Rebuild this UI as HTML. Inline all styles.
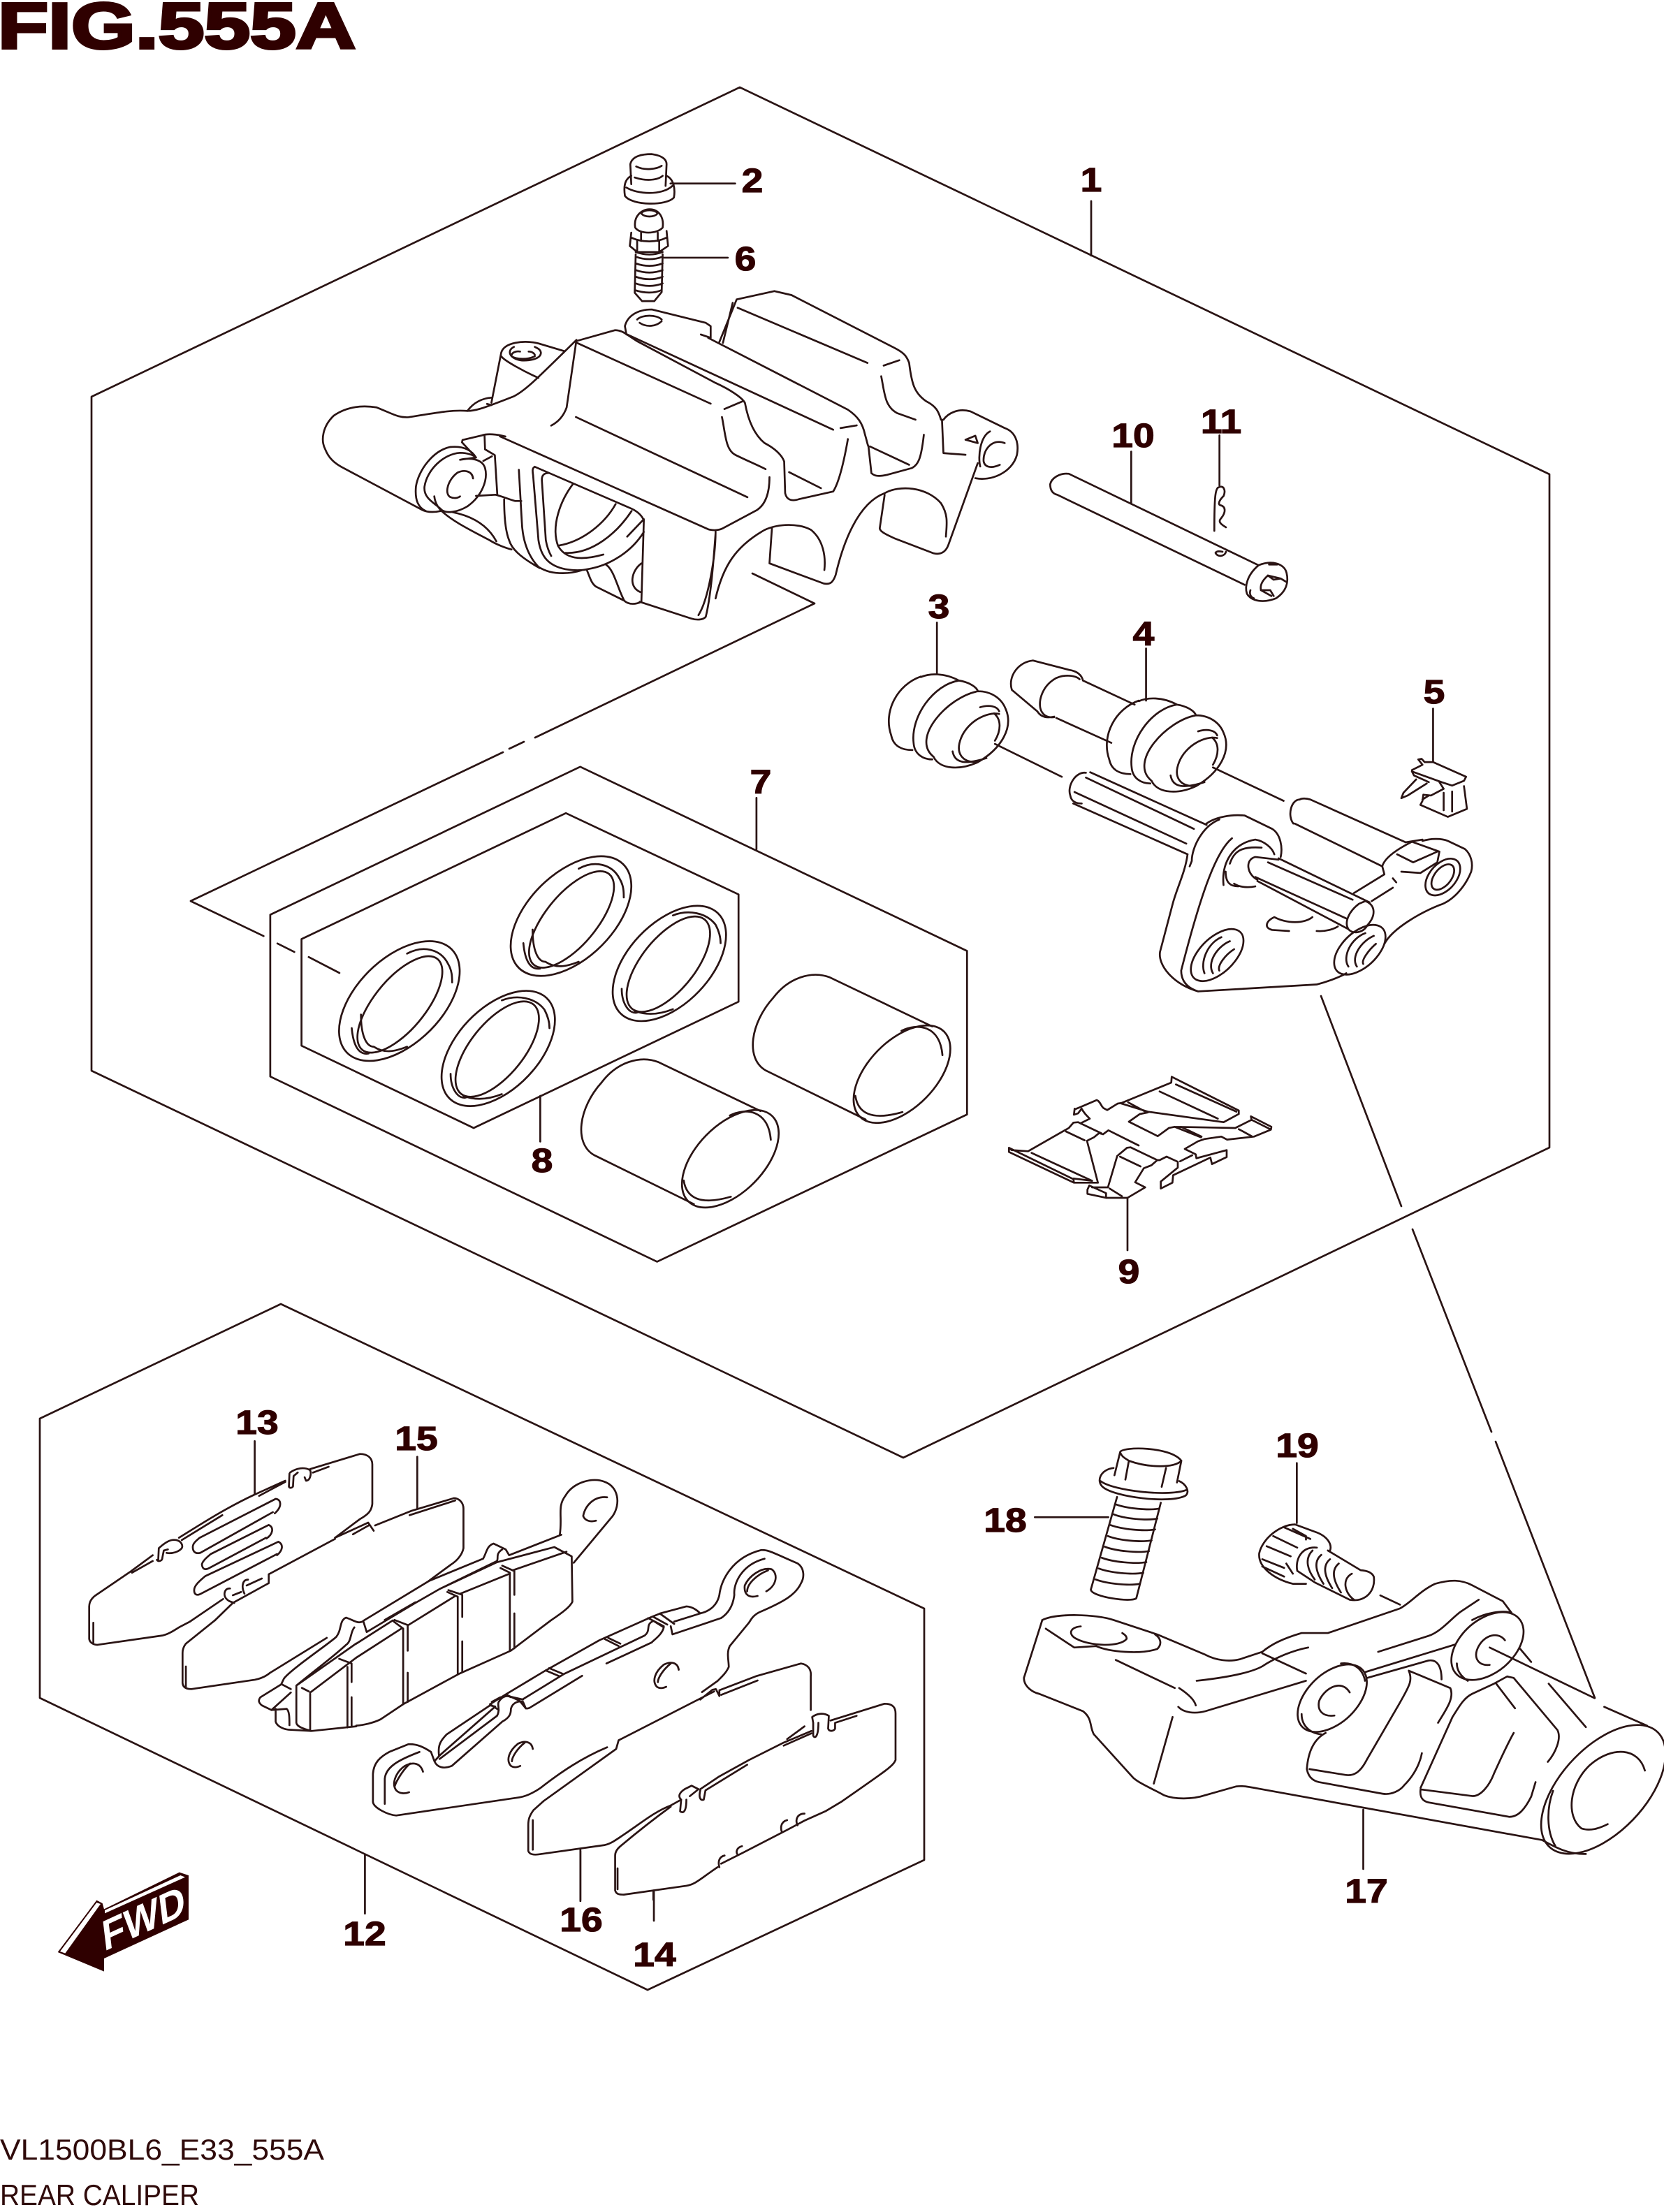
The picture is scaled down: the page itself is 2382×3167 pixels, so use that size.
<!DOCTYPE html>
<html><head><meta charset="utf-8"><style>
html,body{margin:0;padding:0;background:#fff;width:2382px;height:3167px;overflow:hidden}
svg{display:block}
.l path,.l ellipse,.l polyline{fill:none;stroke:#2a1414;stroke-width:2.7;stroke-linecap:round;stroke-linejoin:round;vector-effect:non-scaling-stroke}
.n text{font-family:"Liberation Sans",sans-serif;font-weight:700;font-size:48px;fill:#2f0000;stroke:#2f0000;stroke-width:1.2;text-anchor:middle}
</style></head><body>
<svg width="2382" height="3167" viewBox="0 0 2382 3167" xmlns="http://www.w3.org/2000/svg">
<rect width="2382" height="3167" fill="#fff"/>
<g class="l">
<!-- main frames -->
<path d="M1059,125 L2218,679 V1643 L1293,2087 L131,1533 V568 Z"/>
<path d="M402,1867 L1323,2303 V2663 L927,2849 L57,2431 V2031 Z"/>
<path d="M1562,288 V366"/>
<path d="M1077,821 L1166,864 L766,1056 M750,1062 L729,1072 M720,1077 L273,1290"/>
<path d="M1891,1426 L2006,1727 M2022,1760 L2135,2050 M2141,2064 L2283,2431"/>

<!-- pin 10 and clip 11 -->
<g transform="translate(1480,570) scale(.3333)">
<path d="M418,230 V450 M797,160 V375"/>
<path d="M150,325 C110,320 75,345 70,370 C70,395 80,410 100,415 M150,325 L965,718 M100,415 L905,802"/>
<path d="M965,718 C1020,695 1075,710 1085,750 C1095,790 1085,830 1040,860 C990,880 935,875 915,840 C905,810 915,760 965,718 M1010,715 L1045,715 M1005,762 C985,780 970,800 975,825 L1020,850 M1005,762 L1060,775 L1085,790 M975,825 L1015,825 L1030,850 M1060,775 L1030,780 L1005,762 M930,825 C925,840 930,855 945,860"/>
<path d="M825,660 C820,680 790,685 780,665 C785,655 800,658 810,660"/>
<path d="M790,385 C780,395 775,420 775,570 M790,385 C815,370 825,395 815,420 C795,440 790,455 800,460 C825,465 825,490 805,515 C790,530 800,540 825,555"/>
</g>

<!-- ZOOM 1 caliper -->
<g transform="translate(400,180) scale(.7015,.4783)">
<path d="M718,175 L716,115 C720,90 740,85 760,85 C785,90 790,105 790,115 L788,180 M728,122 C745,135 770,130 780,120 M725,155 C745,165 770,165 782,150 M718,150 C705,160 702,180 705,210 C720,240 790,240 805,215 C808,190 805,160 790,150 M708,185 C730,205 780,210 802,180 M798,173 H930"/>
<path d="M726,305 C722,270 740,250 755,250 C775,250 785,275 782,305 C770,325 735,325 726,305 M738,262 C745,250 765,250 772,262 C765,275 745,275 738,262 M738,320 V345 M772,320 V345 M718,320 L715,360 L730,378 L775,378 L793,360 L790,315 M730,345 V378 M775,345 V378 M718,335 C740,350 770,350 790,335 M727,385 L725,500 L740,525 L765,525 L780,498 L782,385 M727,378 C745,388 765,388 782,378 M727,392 C745,402 765,402 782,392 M727,412 C745,422 765,422 782,412 M727,432 C745,442 765,442 782,432 M727,452 C745,462 765,462 782,452 M727,472 C745,482 765,482 782,472 M725,492 C745,502 765,502 780,492 M785,395 H915"/>
<path d="M605,645 L685,612 C700,612 708,625 730,645 L890,770 C920,790 945,815 950,830 C955,870 965,920 990,950 C1010,965 1025,985 1030,1005 L1032,1100 C1035,1120 1045,1125 1060,1118 L1130,1095 C1145,1060 1155,980 1160,938"/>
<path d="M607,650 L880,832 M908,848 L945,825 M903,872 C910,920 910,970 930,985 C950,1000 975,1015 992,1028 M1040,1037 L1105,1085 M605,872 L955,1112"/>
<path d="M1000,1052 C1000,1090 995,1130 975,1150 L905,1205 C895,1212 885,1212 875,1208 L450,930"/>
<path d="M890,1215 C890,1290 875,1420 855,1465 M890,1220 C885,1320 880,1410 870,1470 C865,1480 850,1480 840,1475 L735,1425"/>
<path d="M890,1415 C905,1320 930,1260 990,1210 C1020,1190 1060,1190 1085,1210 C1110,1240 1115,1290 1112,1330 M1005,1205 L1000,1310 L1110,1370 C1125,1375 1130,1365 1135,1345 C1150,1250 1180,1130 1235,1100 C1265,1075 1320,1080 1350,1130 C1365,1165 1362,1190 1360,1230 M1235,1105 L1225,1205 C1225,1215 1240,1225 1255,1235 L1335,1280 C1350,1285 1360,1275 1365,1255 L1425,1010"/>
<path d="M933,520 L1010,495 L1045,507 L1255,665 C1275,680 1280,690 1285,710 C1290,770 1295,800 1320,825 C1340,840 1345,855 1350,880 M935,545 L1200,710 M1233,718 L1265,702 M1228,750 C1235,800 1235,840 1260,860 L1298,880 M933,520 L897,650 M925,530 L905,650 M1205,960 L1285,1015 M1202,960 L1208,1040 C1215,1050 1225,1050 1240,1045 L1290,1025 C1305,1015 1310,990 1315,925"/>
<path d="M705,600 C710,570 730,550 760,550 L870,590 L880,600 V635 L860,625 M705,600 L708,625 M730,580 C740,565 770,565 780,580 M735,590 C750,605 770,600 780,585 M875,635 L1160,850 C1180,870 1190,890 1195,925 C1200,950 1200,955 1202,960 M710,625 L1130,910 M1145,905 L1178,897"/>
<path d="M1352,880 L1355,980 L1400,985 M1355,880 C1365,860 1385,845 1410,855 L1480,905 C1500,915 1510,945 1505,985 C1495,1040 1450,1065 1420,1055 M1480,950 C1455,935 1435,970 1437,1005 C1440,1025 1455,1025 1470,1015 M1450,915 C1430,930 1425,990 1430,1020 M1400,940 L1420,928 L1425,950 L1400,940"/>
</g>

<!-- caliper lower-left detail -->
<g transform="translate(420,480) scale(.3508,.3333)">
<path d="M848,75 C860,30 940,20 1000,35 L1105,68 M900,50 C870,65 880,100 930,108 C970,110 1010,100 1010,75 C1008,60 995,55 985,50 M890,85 C895,70 915,68 925,70 M960,70 C975,70 985,80 985,85 M890,90 C910,105 960,105 985,90 M848,75 L808,290 M848,90 C860,110 950,160 1000,183"/>
<path d="M710,325 C650,320 600,330 470,352 C430,355 410,340 340,310 C280,300 220,305 165,345 C120,390 110,450 130,490 C145,530 170,550 195,565 L525,750 C545,760 570,762 600,755"/>
<path d="M710,325 C735,290 770,270 810,268 M790,295 L808,300 M710,325 C740,325 760,320 900,262 C950,235 1000,180 1155,20 L1115,310 C1105,340 1085,370 1052,388"/>
<path d="M865,435 C830,425 790,422 770,430 L690,450 L688,460 L745,525 M780,430 L782,490 L822,515 L832,685 M775,540 L810,520"/>
<path d="M680,535 C720,525 770,530 782,570 C795,620 770,690 710,735 C670,760 620,770 600,745 C575,720 530,700 535,650 C545,580 610,510 680,505 C710,505 735,515 745,525 M745,525 C725,490 690,475 640,480 C570,495 510,580 500,650 C495,710 510,740 540,755 M680,535 L745,525 M575,692 C578,720 590,740 605,755 M733,615 C730,585 700,575 670,590 C630,620 615,680 640,695 C655,702 670,700 680,692"/>
<path d="M745,690 L825,685 C860,695 880,705 905,712 H930 M860,705 C860,770 865,840 880,880 C890,915 920,950 1005,1000 M920,578 L932,800 C935,880 955,945 1000,995 C1030,1015 1060,1022 1100,1022 C1130,1022 1160,1015 1175,1010 M605,755 C640,790 690,820 800,880 C830,900 870,915 890,920 M650,760 C720,775 790,810 828,885"/>
<path d="M985,565 C975,570 975,580 978,600 L1000,880 C1010,950 1040,990 1110,1005 C1150,1012 1180,1010 1200,1005 C1290,990 1380,930 1430,845 M985,565 L1380,745 C1400,755 1420,770 1430,795 M1014,625 C1012,600 1025,592 1040,592 M1014,625 L1030,880 C1035,910 1045,935 1052,948 M1140,640 C1090,710 1050,820 1080,905 C1110,960 1170,970 1265,942 M1085,903 C1180,885 1270,810 1315,725 M1110,935 C1220,940 1320,850 1380,755 M1430,790 L1362,865 M1430,795 L1420,1145"/>
<path d="M1275,985 C1310,1010 1320,1080 1350,1140 L1235,1080 C1215,1065 1210,1040 1198,1010 M1350,1140 C1370,1160 1400,1155 1420,1145 M1420,980 C1380,1010 1365,1080 1415,1103"/>
</g>

<!-- ZOOM 2 pins / bracket -->
<g transform="translate(1200,850) scale(.606,.3827)">
<path d="M233,108 V300 M727,205 V400 M1405,430 V630"/>
<g id="boot">
<path d="M195,310 C140,340 105,440 125,530 C130,570 150,585 175,585 M195,312 C215,298 250,295 285,325 C225,340 170,460 178,560 C180,600 200,620 222,620 M285,325 C305,330 325,345 330,365 C260,385 170,540 225,610 C240,660 290,660 330,630 C385,580 415,500 395,430 C385,390 360,365 330,365 M380,450 C350,440 305,480 290,540 C275,600 295,630 325,630 M368,448 C385,470 385,510 370,550 M335,425 C355,415 375,420 380,440 M270,590 C275,635 300,640 350,615"/>
</g>
<use href="#boot" transform="translate(515,90)"/>
<path d="M460,250 C425,255 400,310 410,360 L470,440 C480,465 495,465 510,460 M460,250 L545,285 C565,290 575,305 578,325 M510,320 C530,300 560,305 570,320 M510,320 C480,350 470,410 480,440 C485,455 495,465 510,462 M578,325 L700,415 M515,465 L645,558"/>
<path d="M370,562 L528,685 M885,650 L1052,775"/>
<path d="M585,670 C560,665 540,720 548,755 C550,775 560,785 575,785 M595,668 L870,865 M585,688 L840,880 M558,742 L822,935 M555,785 L825,975"/>
<path d="M868,862 C890,835 930,825 960,830 L1025,880 C1045,900 1050,950 1045,985 M825,975 C820,1040 800,1100 790,1160 L760,1340 C755,1390 790,1460 850,1488 L1130,1462 C1160,1450 1190,1430 1200,1420 M830,1020 L835,1000 C835,950 860,870 900,845 M930,915 C895,960 860,1100 810,1410 C810,1450 825,1475 850,1488"/>
<path d="M1090,770 C1070,770 1060,830 1075,860 M1115,770 L1340,930 M1078,860 L1285,1020 M1115,770 C1105,765 1095,765 1090,770"/>
<path d="M1340,930 L1380,920 M1285,1020 C1290,990 1315,960 1355,928 L1420,965 L1415,1005 L1375,1045 L1330,1040 M1320,975 L1358,1005 L1415,965 M1285,1020 L1290,1050 L1218,1120 M1380,925 C1400,915 1425,915 1440,925 L1480,955 C1495,975 1500,1010 1495,1040 C1480,1100 1450,1150 1420,1165 C1380,1190 1310,1250 1290,1310 M1310,1065 L1318,1080 M1310,1100 L1260,1150"/>
<ellipse cx="1428" cy="1060" rx="35" ry="72" transform="rotate(20 1428 1060)"/>
<ellipse cx="1428" cy="1060" rx="22" ry="50" transform="rotate(20 1428 1060)"/>
<path d="M910,1090 C905,1010 930,935 985,920 C1005,925 1025,950 1030,975 M925,1010 C935,960 955,945 1000,950 M935,1085 C950,1100 970,1100 985,1095 M915,1040 C915,1080 925,1095 945,1095 M985,985 C960,995 965,1050 990,1070 M985,985 L1040,995 M1015,1005 L1215,1145 M1040,990 L1255,1155 M985,1060 L1200,1215 M990,1075 L1205,1255 M1245,1150 C1270,1165 1270,1205 1250,1240 C1240,1270 1215,1275 1205,1255 C1195,1230 1205,1190 1230,1160 L1245,1150"/>
<ellipse cx="895" cy="1352" rx="48" ry="105" transform="rotate(25 895 1352)"/>
<path d="M905,1285 C870,1310 855,1380 865,1420 M925,1300 C895,1320 870,1380 885,1420 M935,1330 C915,1350 895,1390 900,1410"/>
<ellipse cx="1232" cy="1332" rx="48" ry="100" transform="rotate(25 1232 1332)"/>
<path d="M1245,1270 C1210,1290 1190,1360 1205,1395 M1265,1280 C1235,1300 1210,1360 1225,1395 M1270,1310 C1255,1330 1235,1370 1240,1385"/>
<path d="M1120,1210 C1100,1235 1060,1235 1030,1210 C1010,1225 1005,1250 1025,1258 L1065,1262 M1130,1262 C1150,1265 1170,1255 1180,1245"/>
<path d="M1355,660 L1380,640 L1370,620 L1378,618 L1385,630 L1405,630 L1483,685 L1478,700 L1450,718 L1425,705 L1355,665 M1355,665 L1360,680 L1395,705 M1365,695 L1335,745 L1330,765 L1345,755 L1390,710 M1420,705 L1430,730 L1400,755 L1382,752 L1380,775 L1375,790 L1440,835 L1485,805 L1478,720 M1430,745 V810 M1450,740 V815 M1380,770 L1395,755"/>
</g>

<!-- ZOOM 7 seals & pistons -->
<g transform="translate(260,1060) scale(.7334,.4847)">
<path d="M778,78 L1533,622 V1105 L928,1540 L173,993 V515 Z"/>
<path d="M750,215 L1087,455 V772 L570,1145 L234,902 V587 Z"/>
<path d="M18,475 L160,578 M187,600 L220,625 M248,640 L308,687"/>
<path d="M1122,170 V322 M700,1050 V1185"/>
<g id="ring">
<ellipse cx="425" cy="770" rx="95" ry="190" transform="rotate(25 425 770)"/>
<ellipse cx="426" cy="780" rx="56" ry="155" transform="rotate(25 426 780)"/>
<path d="M440,630 C470,605 505,615 520,660 C528,680 528,700 528,715 M332,850 C335,900 345,930 365,925 M350,810 C350,870 360,905 375,905 C395,925 415,920 440,905"/>
</g>
<use href="#ring" transform="translate(335,-251)"/>
<g id="ring2">
<ellipse cx="618" cy="910" rx="90" ry="182" transform="rotate(24 618 910)"/>
<ellipse cx="616" cy="912" rx="58" ry="152" transform="rotate(24 616 912)"/>
<path d="M625,768 C655,750 690,760 708,795 C715,815 718,835 718,850 M525,985 C525,1030 540,1060 555,1055 M550,1050 C575,1065 600,1060 625,1045"/>
</g>
<use href="#ring2" transform="translate(334,-251)"/>
<g id="piston">
<path d="M930,950 L1130,1095 M930,950 C895,930 850,950 820,1010 C775,1085 765,1190 805,1225 L1000,1370"/>
<ellipse cx="1071" cy="1236" rx="75" ry="155" transform="rotate(25 1071 1236)"/>
<path d="M1070,1108 C1100,1085 1145,1090 1150,1180 M980,1300 C985,1350 1010,1375 1072,1348"/>
</g>
<use href="#piston" transform="translate(335,-250)"/>
</g>

<!-- ZOOM 6 shim 9 -->
<g transform="translate(1400,1500) scale(.3333)">
<path d="M642,645 V870"/>
<path d="M133,430 L133,448 L412,580 L515,580 L468,400 L498,385 L520,367 L537,372 L560,355 L690,420 M133,430 L410,565 L412,580 M410,562 L490,572 M133,430 L145,440 L215,445 L390,345 L410,322 L430,320 L530,368 M378,360 L458,398 M230,452 L490,572"/>
<path d="M415,262 L412,288 L430,282 L445,262 C455,280 465,290 480,305 L440,325 M415,265 L440,255 L510,225 C525,230 530,255 540,260 L555,268 L600,240 L615,238 L830,150 L832,125 L1120,270 L1120,285 L1055,320 L730,275 L610,238 M645,235 L725,278 M780,188 L1030,305 M850,158 L1110,275"/>
<path d="M730,278 L695,285 L648,318 L772,380 L820,345 L845,340 L1105,345 L1175,310 L1172,295 L1260,340 L1258,352 L1185,382 L1070,395 L1045,382 L975,392 L945,402 L888,435 L935,458 L938,475 L1068,440 L1068,470 L1005,500 L998,472 L838,548 L835,580 L785,605 L785,575 L858,515 L858,490 L810,468 L780,483 L770,483 L655,428 L640,430 L598,465 L558,600 L490,600 M845,340 L958,385 M872,340 L960,382 M1120,350 L1175,380 M1175,310 L1255,350 M868,488 L920,462 M610,468 L698,510 M565,605 L618,638 M478,592 L550,625 L550,645 L470,628 L470,610 L478,592 M550,645 L642,645 L718,600 L675,578 L712,518 L745,505 L770,483"/>
</g>

<!-- pads 13 and 15, left end of pad block -->
<g transform="translate(100,2080) scale(.3954,.3333)">
<path d="M85,730 V815 M70,660 C70,640 80,625 90,615 L220,510 L300,440 M70,660 V800 C72,815 85,825 100,825 L335,785 C355,780 375,765 395,750 L435,725 M225,515 L300,465"/>
<path d="M315,460 C320,470 335,465 335,450 L340,420 L355,415 M322,410 C345,385 365,370 385,375 C405,380 410,400 405,410 C395,425 370,435 350,430 M322,410 L320,460"/>
<path d="M395,365 C470,310 560,240 668,180 M405,375 L552,268 M685,185 L780,125 M668,180 L780,120"/>
<path d="M795,90 L793,145 C795,155 810,150 808,140 L810,100 L825,85 M797,85 C820,65 850,60 870,75 C875,90 870,120 855,120 L850,105 M870,70 L1050,5 C1080,5 1095,25 1095,50 L1095,220 C1092,250 1080,265 1050,285 L960,365 M880,85 L937,60"/>
<path d="M445,405 C445,390 455,380 470,365 L745,198 C765,200 770,230 742,260 M445,405 C445,425 455,435 472,430 L735,255 M478,480 C480,465 495,450 510,435 L720,310 C740,320 735,350 712,368 M478,480 C480,500 490,505 505,495 L710,365 M450,590 C450,570 470,550 490,530 L755,382 C775,395 770,420 750,440 M450,590 C450,610 460,615 475,605 L750,435"/>
<path d="M580,583 C560,580 555,610 565,625 C575,640 585,640 595,645 M590,612 L620,598 M645,545 C625,545 620,575 632,605 M640,570 L695,540 M720,525 L720,560 L590,645 L525,720 M435,725 L555,628"/>
<path d="M720,522 L960,370 M1025,350 L1085,310 M960,365 L1080,300 L1100,335 M1105,312 L1235,250 L1390,195 C1410,195 1425,215 1425,240 V410 C1420,440 1400,465 1380,480 L1300,550 M1230,268 L1395,205 M525,720 L420,820 C410,835 408,850 408,860 V990 C410,1010 425,1015 440,1015 L670,975 C690,970 710,960 725,945 L930,795 M420,918 V1005"/>
<path d="M1060,725 C1040,735 1030,720 1000,708 C975,720 985,760 965,790 C950,810 800,930 775,970 L765,995 L690,1050 C680,1065 685,1075 695,1085 L730,1105 L785,1100 C795,1110 795,1140 795,1170 M730,1105 L800,1030 M1030,750 C1015,770 1020,810 1000,825 C950,880 870,950 820,1000 L1037,819 M820,1000 V1160 C822,1175 840,1185 875,1195 L1037,1175 M870,1035 V1195 M870,1030 L1037,880 M975,885 L1020,905 V985 M1020,1050 V1175 M1005,920 V1180 M768,995 L800,1015 M840,1010 L865,1025 M745,1100 V1155 C750,1175 775,1190 800,1190 L875,1195"/>
</g>

<!-- ZOOM 3 leads and ear -->
<g transform="translate(100,2050) scale(.797,.4464)">
<path d="M332,30 V200 M624,80 V245 M530,1355 V1545 M917,1345 V1505 M1049,1475 V1568"/>
<path d="M880,330 C885,270 875,240 890,205 C905,160 940,145 960,160 C985,175 990,230 975,270 L905,420 M965,210 C940,205 925,240 922,270 C925,285 935,290 945,285"/>
</g>

<!-- pad block right part, backing plate, pads 16 & 14 -->
<g transform="translate(510,2200) scale(.4974,.3333)">
<path d="M20,362 L210,190 L365,95 C375,70 375,40 395,30 L430,55 L440,80 L590,-8 M30,410 L170,285 L240,225 L405,105 C410,90 400,75 420,55 M82,358 L170,282 M0,460 L105,360 M240,225 L405,110 L570,45 L620,85 L622,280 C615,300 600,320 560,360 L445,490 L295,590 L135,720 L70,785 C50,800 20,810 0,812 M450,145 L605,65 M300,245 L440,160 M150,380 L285,255 M0,520 L130,395 M20,362 L30,410"/>
<path d="M420,125 L455,148 V250 M455,330 V480 M415,135 L442,155 V490 M265,230 L305,250 V345 M305,450 V580 M262,238 L292,258 V590 M110,358 L148,380 V490 M148,585 V710 M108,365 L135,395 V720"/>
<path d="M48,1020 C50,970 70,945 95,925 L150,892 C175,890 195,905 215,925 L225,965 C232,990 250,1000 275,985 L420,795 C445,775 445,755 445,740 C450,710 470,705 480,710 L488,738 C495,740 500,735 505,730 L650,598 M48,1020 V1140 C50,1165 90,1195 115,1198 L470,1120 C490,1115 510,1100 530,1080 C590,1010 650,950 722,905 M82,1148 L82,1040 C85,990 120,960 182,925"/>
<path d="M192,1010 C185,975 165,965 140,985 C115,1010 100,1060 115,1090 C125,1105 140,1105 152,1098 M155,975 C135,1000 115,1050 110,1075"/>
<path d="M225,965 L240,940 L400,730 L385,725 L260,850 C240,880 235,900 238,940 M240,955 L405,770 C415,745 405,720 410,710 C420,685 435,680 445,690 M385,720 L410,745 M390,710 L415,690"/>
<path d="M385,720 L430,678 L545,575 L700,445 L850,345 L875,330 M445,688 L480,700 M430,678 L470,705 L488,738 M478,700 L598,590 L830,425 C850,400 830,380 855,362 L885,390 C880,420 860,440 850,455 L720,545"/>
<path d="M545,575 L585,600 M555,565 L595,590 M715,440 L755,470 M725,435 L760,460 M840,350 L885,385 M855,345 L895,378 M875,332 L915,375"/>
<path d="M875,330 L950,300 C965,300 980,315 990,330 M905,385 L910,420 L1050,350 C1075,325 1085,290 1088,250 C1085,200 1110,120 1175,95 M915,365 L990,330 C1020,320 1040,290 1045,250 C1050,190 1080,90 1165,58 C1185,55 1200,70 1270,115 C1290,135 1290,175 1280,200 C1265,250 1230,280 1160,325 C1140,340 1135,360 1130,370 L1075,470 C1065,500 1072,530 1072,560 C1065,585 1050,605 1040,620 L995,668"/>
<path d="M1180,235 C1210,210 1215,160 1195,140 C1165,130 1130,170 1118,210 C1115,250 1130,265 1155,255 M1185,145 C1150,165 1125,205 1125,235"/>
<path d="M928,572 C925,540 905,535 885,550 C860,580 850,620 865,645 C875,655 885,650 892,645 M905,545 C880,575 868,610 868,625 M508,912 C505,880 485,875 465,890 C440,920 430,960 445,985 C455,995 465,990 472,985 M485,885 C460,915 448,950 448,965"/>
<path d="M1045,660 L1150,600 L1280,545 C1300,550 1310,570 1308,600 V745 M1045,665 V685 L1035,655 L1025,658 L990,700 M1050,680 L1155,618 M1030,665 L755,875 L748,912 L540,1135 L510,1175 C498,1200 495,1215 495,1240 V1350 C498,1365 510,1368 525,1365 L715,1325 C735,1318 750,1300 775,1275 C820,1230 860,1180 905,1155 M508,1218 V1345 M645,1340 V1560"/>
<path d="M745,1370 C745,1360 748,1345 760,1330 C800,1280 850,1220 905,1160 M745,1370 V1520 C748,1535 755,1538 770,1538 L950,1500 C975,1495 990,1470 1040,1420 M752,1425 V1515 M855,1520 V1560"/>
<path d="M905,1155 L935,1130 C925,1115 930,1100 945,1085 L965,1070 L985,1085 L960,1115 M935,1130 L932,1180 C940,1190 950,1185 950,1130 M990,1090 C985,1120 990,1135 1000,1130 L1005,1090 L1125,980 M990,1085 L1045,1030 L1130,960 L1230,885 L1310,835 M1230,898 L1310,845 M1240,870 L1290,815"/>
<path d="M1315,800 L1312,775 C1325,760 1345,755 1360,770 L1358,825 C1362,840 1375,835 1378,825 L1378,800 L1440,770 M1365,790 L1520,718 C1545,718 1552,735 1552,760 V960 C1545,985 1530,1000 1395,1140 L1350,1180 L1290,1220 L1240,1260 L1110,1360 L1050,1405 M1315,800 V855 C1320,870 1330,860 1330,800"/>
<path d="M1290,1190 C1270,1190 1262,1215 1270,1240 M1240,1218 C1222,1225 1220,1250 1225,1270 M1110,1330 C1095,1335 1092,1355 1097,1365 M1060,1370 C1045,1375 1040,1395 1045,1420"/>
</g>

<!-- ZOOM 4 arm and bolts -->
<g transform="translate(1400,2050) scale(.626,.4145)">
<path d="M130,295 H298 M729,108 V315 M881,1305 V1510 M1170,745 L1410,920 M1432,950 L1530,1015 M920,565 L965,597"/>
<path d="M325,70 C330,50 440,50 465,100 L455,175 M325,70 L312,150 M345,100 L337,165 M430,125 L420,190 M465,100 C450,125 390,125 345,100 C335,90 328,85 325,70 M310,125 C280,130 270,170 285,190 C310,225 440,250 475,220 C485,205 475,180 460,170 M280,170 C310,205 440,225 478,200 M318,225 L258,545 C260,570 350,590 362,575 L418,245"/>
<path d="M314,250 C340,265 390,272 415,265 M310,285 C335,300 385,307 410,300 M303,322 C330,337 380,344 405,337 M297,360 C322,375 372,382 397,375 M290,397 C316,412 366,419 391,412 M283,435 C309,450 360,457 385,450 M276,472 C302,487 352,494 378,487 M269,510 C295,525 345,532 370,525"/>
<path d="M725,320 C690,320 650,370 643,420 C640,470 680,510 720,525 L750,525 M725,320 L770,345 C800,360 810,390 805,410 M700,330 L760,370 M675,360 L730,400 M660,395 L715,430 M650,440 L700,470 M650,465 L700,500 M720,335 L750,360 L750,372 M720,490 L705,455 M775,400 C740,395 725,440 730,480 L770,520 L850,580 C885,590 910,550 905,500 C900,485 890,480 875,478 L800,410 M855,490 C830,510 840,560 860,580 M765,410 C745,440 755,480 770,510 M785,425 C765,450 775,490 790,525 M805,440 C785,465 795,505 810,540 M825,455 C805,480 815,520 830,555"/>
<path d="M147,650 C180,625 270,630 310,650 L410,700 L520,770 C545,790 575,795 600,785 L650,760 C670,735 695,715 740,695 L800,695 L965,610 C990,590 1010,550 1045,525 C1080,510 1105,510 1130,530 L1200,585 L1220,625"/>
<path d="M147,650 L105,850 C105,880 125,900 140,905 L240,965 C262,990 255,1020 265,1045 L355,1195 C370,1215 395,1230 425,1255 C450,1270 490,1270 520,1255 L590,1225 C605,1222 615,1225 640,1232 L1290,1410 C1320,1435 1350,1460 1390,1458"/>
<path d="M155,680 L220,745 L270,740 C300,760 370,770 410,750 C420,735 420,715 405,700 M235,672 C210,675 205,700 225,715 C255,740 325,745 340,715 C340,705 335,700 330,695 M315,788 L450,885 M460,885 C480,905 495,925 498,945 M458,950 C470,970 495,975 520,965 L750,860 M445,985 L402,1215 M500,860 C560,850 620,835 650,810 C680,780 720,755 755,745 M650,765 L750,835 M915,760 L1030,705 C1060,690 1085,640 1105,620 L1145,580 M885,830 L1090,735"/>
<ellipse cx="810" cy="920" rx="65" ry="125" transform="rotate(25 810 920)"/>
<path d="M850,900 C830,850 790,890 780,930 C775,965 790,985 815,980 M740,975 C740,1010 755,1040 785,1045 M830,800 C860,795 880,820 885,860"/>
<ellipse cx="1165" cy="740" rx="70" ry="125" transform="rotate(25 1165 740)"/>
<path d="M1205,720 C1190,690 1160,700 1145,740 C1130,780 1145,810 1170,805 M1130,650 C1160,625 1200,615 1220,625 M1095,800 C1095,825 1105,845 1120,860"/>
<path d="M890,850 L1030,790 C1050,785 1060,810 1060,855 M985,825 L1080,885 C1090,920 1070,960 1052,1005 M985,825 C995,860 985,880 965,935 L890,1130 C875,1175 860,1190 840,1185 L758,1165 M795,1040 C770,1060 755,1100 752,1165 C755,1190 765,1205 780,1210 L925,1250 C945,1255 965,1240 975,1220 C995,1190 1010,1150 1015,1110"/>
<path d="M1130,905 C1110,920 1100,950 1085,985 L1012,1230 M1012,1235 L1130,1258 C1150,1260 1170,1220 1180,1180 C1195,1130 1210,1080 1225,1040 M1012,1235 C1010,1260 1015,1275 1030,1280 L1215,1330 C1235,1330 1250,1305 1265,1260 L1275,1210 M1130,905 L1180,870 L1210,845 L1225,850 L1325,1030 C1335,1060 1320,1110 1303,1140 M1185,870 L1228,955 M1305,870 L1390,1020 M1240,750 L1265,795"/>
<ellipse cx="1430" cy="1235" rx="110" ry="240" transform="rotate(25 1430 1235)"/>
<path d="M1525,1170 C1510,1090 1450,1085 1400,1150 C1350,1220 1345,1330 1380,1370 C1400,1380 1420,1370 1440,1355 M1315,1240 C1300,1300 1300,1380 1320,1430"/>
</g>
</g>

<!-- FWD arrow -->
<g transform="translate(0,2650) scale(.3333)">
<polygon points="248,435 415,212 440,225 447,250 770,92 810,105 810,295 447,462 447,518" fill="#2f0000"/>
<polygon points="258,432 415,222 432,228 280,440" fill="#fff"/>
<polygon points="450,255 775,105 795,113 450,268" fill="#fff"/>
</g>
<text transform="matrix(1,-.46,.12,1,149,2794)" font-family="Liberation Sans, sans-serif" font-weight="700" font-size="60" fill="#fff" textLength="118" lengthAdjust="spacingAndGlyphs">FWD</text>

<!-- title + footer -->
<text x="-3" y="69" font-family="Liberation Sans, sans-serif" font-weight="700" font-size="93" fill="#2f0000" stroke="#2f0000" stroke-width="4" textLength="512" lengthAdjust="spacingAndGlyphs">FIG.555A</text>
<text x="0" y="3092" font-family="Liberation Sans, sans-serif" font-size="42" fill="#2f0a0a" textLength="464" lengthAdjust="spacingAndGlyphs">VL1500BL6_E33_555A</text>
<text x="0" y="3157" font-family="Liberation Sans, sans-serif" font-size="42" fill="#2f0a0a" textLength="285" lengthAdjust="spacingAndGlyphs">REAR CALIPER</text>

<!-- callouts -->
<g class="n">
<text transform="translate(1562,274) scale(1.15,1)">1</text>
<text transform="translate(1077,275) scale(1.15,1)">2</text>
<text transform="translate(1067,387) scale(1.15,1)">6</text>
<text transform="translate(1622,640) scale(1.15,1)">10</text>
<text transform="translate(1748,620) scale(1.15,1)">11</text>
<text transform="translate(1344,885) scale(1.15,1)">3</text>
<text transform="translate(1637,924) scale(1.15,1)">4</text>
<text transform="translate(2053,1007) scale(1.15,1)">5</text>
<text transform="translate(1089,1136) scale(1.15,1)">7</text>
<text transform="translate(776,1678) scale(1.15,1)">8</text>
<text transform="translate(1616,1837) scale(1.15,1)">9</text>
<text transform="translate(368,2053) scale(1.15,1)">13</text>
<text transform="translate(596,2076) scale(1.15,1)">15</text>
<text transform="translate(1439,2193) scale(1.15,1)">18</text>
<text transform="translate(1857,2086) scale(1.15,1)">19</text>
<text transform="translate(522,2785) scale(1.15,1)">12</text>
<text transform="translate(832,2765) scale(1.15,1)">16</text>
<text transform="translate(937,2815) scale(1.15,1)">14</text>
<text transform="translate(1956,2724) scale(1.15,1)">17</text>
</g>
</svg>
</body></html>
